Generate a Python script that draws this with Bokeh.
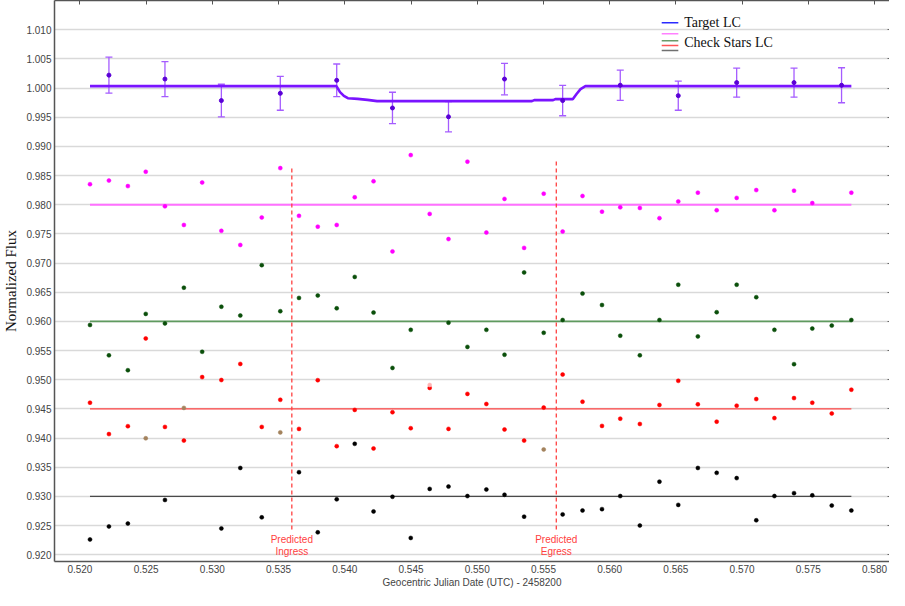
import numpy as np
from bokeh.plotting import figure
from bokeh.models import (ColumnDataSource, Range1d, LinearAxis, FixedTicker,
                          NumeralTickFormatter, Whisker, TeeHead, CustomLabelingPolicy)
from bokeh.core.properties import value
from bokeh.embed import file_html
from bokeh.resources import INLINE

nan = float("nan")

# ---------------- data ----------------
time = [0.52076, 0.52219, 0.52362, 0.52497, 0.52642, 0.52785, 0.52923, 0.53068,
        0.53211, 0.53373, 0.53513, 0.53654, 0.53796, 0.53939, 0.54075, 0.54217,
        0.54360, 0.54498, 0.54641, 0.54783, 0.54926, 0.55069, 0.55206, 0.55354,
        0.55502, 0.55645, 0.55795, 0.55942, 0.56080, 0.56228, 0.56376, 0.56518,
        0.56666, 0.56808, 0.56959, 0.57107, 0.57244, 0.57392, 0.57530, 0.57677,
        0.57825]

check1_flux = [0.98353, 0.98415, 0.98320, 0.98566, 0.97973, 0.97654, 0.98382, 0.97553,
               0.97311, 0.97782, 0.98629, 0.97810, 0.97625, 0.97654, 0.98129, 0.98403,
               0.97200, 0.98852, 0.97844, 0.97412, 0.98740, 0.97524, 0.98101, 0.97261,
               0.98191, 0.97541, 0.98151, 0.97882, 0.97956, 0.97945, 0.97771, 0.98057,
               0.98208, 0.97906, 0.98118, 0.98252, 0.97906, 0.98242, 0.98029, nan,
               0.98208]
check2_flux = [0.95939, 0.95418, 0.95163, 0.96129, 0.95966, 0.96578, 0.95479, 0.96252,
               0.96101, 0.96965, 0.96175, 0.96403, 0.96444, 0.96225, 0.96763, 0.96151,
               0.95202, 0.95855, nan, 0.95978, 0.95563, 0.95855, 0.95429, 0.96840,
               0.95805, 0.96024, 0.96477, 0.96281, 0.95755, 0.95418, 0.96024, 0.96629,
               0.95743, 0.96158, 0.96629, 0.96415, 0.95855, 0.95267, 0.95877, 0.95928,
               0.96024]
check3_flux = [0.94606, 0.94068, 0.94203, 0.95708, 0.94191, 0.93956, 0.95045, 0.94995,
               0.95271, 0.94191, 0.94656, 0.94157, 0.94992, 0.93861, 0.94483, 0.93821,
               0.94443, 0.94169, 0.94860, 0.94157, 0.94757, 0.94584, 0.94147, 0.93956,
               0.94522, 0.95089, 0.94623, 0.94208, 0.94332, 0.94241, 0.94567, 0.94981,
               0.94578, 0.94281, 0.94555, 0.94668, 0.94342, 0.94685, 0.94606, 0.94421,
               0.94829]
check4_flux = [0.92261, 0.92484, 0.92534, nan, 0.92938, nan, nan, 0.92450,
               0.93487, 0.92640, nan, 0.93414, 0.92383, 0.92949, 0.93901, 0.92741,
               0.92993, 0.92287, 0.93128, 0.93168, 0.93005, 0.93118, 0.93027, 0.92652,
               nan, 0.92691, 0.92758, 0.92781, 0.93005, 0.92500, 0.93252, 0.92854,
               0.93487, 0.93403, 0.93313, 0.92590, 0.93005, 0.93055, 0.93017, 0.92842,
               0.92758]
check_levels = [0.980, 0.960, 0.945, 0.930]

flagged_time = [0.52497, 0.52785, 0.53513, 0.55502]
flagged_flux = [0.93996, 0.94517, 0.94097, 0.93804]
faint_time = [0.54641]
faint_flux = [0.94910]

target_time = [0.52219, 0.52642, 0.53068, 0.53513, 0.53939, 0.54360, 0.54783,
               0.55206, 0.55645, 0.56080, 0.56518, 0.56959, 0.57392, 0.57751]
target_flux = [1.00223, 1.00156, 0.99787, 0.99911, 1.00134, 0.99660, 0.99509,
               1.00156, 0.99787, 1.00050, 0.99871, 1.00095, 1.00095, 1.00050]
target_err = [0.0031, 0.0030, 0.0028, 0.0029, 0.0028, 0.0027, 0.0026,
              0.0027, 0.0026, 0.0026, 0.0025, 0.0025, 0.0025, 0.0030]

model_time = [0.52076, 0.53937, 0.53964, 0.53993, 0.54023, 0.54097, 0.54171, 0.54244,
              0.55413, 0.55430, 0.55573, 0.55590, 0.55721, 0.55750, 0.55780, 0.55817,
              0.57825]
model_flux = [1.00034, 1.00034, 0.99933, 0.99866, 0.99827, 0.99816, 0.99799, 0.99777,
              0.99777, 0.99794, 0.99794, 0.99811, 0.99811, 0.99900, 0.99983, 1.00034,
              1.00034]

pred_time = [0.53600, 0.55597]
pred_top = [0.98640, 0.98760]
pred_bottom = [0.92430, 0.92430]
pred_label1 = ["Predicted", "Predicted"]
pred_label2 = ["Ingress", "Egress"]

x_ticks = [0.520, 0.525, 0.530, 0.535, 0.540, 0.545, 0.550, 0.555, 0.560, 0.565,
           0.570, 0.575, 0.580]
y_ticks = [0.920, 0.925, 0.930, 0.935, 0.940, 0.945, 0.950, 0.955, 0.960, 0.965,
           0.970, 0.975, 0.980, 0.985, 0.990, 0.995, 1.000, 1.005, 1.010]

# ---------------- figure ----------------
X0, X1 = 0.51808, 0.58113
Y0, Y1 = 0.91883, 1.01503

p = figure(width=889, height=590, output_backend="svg", toolbar_location=None,
           x_range=Range1d(X0, X1), y_range=Range1d(Y0, Y1),
           min_border_left=10, min_border_right=0, min_border_top=0,
           min_border_bottom=0, background_fill_color="white")
p.outline_line_color = None
p.xgrid.visible = False
p.ygrid.grid_line_color = "#d9d9d9"
p.ygrid.grid_line_width = 1.6

tick_font = "Liberation Sans"
for ax in (p.xaxis[0], p.yaxis[0]):
    ax.axis_line_color = "#555555"
    ax.axis_line_width = 1.5
    ax.major_tick_in = 0
    ax.major_tick_out = 0
    ax.minor_tick_in = 0
    ax.minor_tick_out = 0
    ax.major_label_text_font = tick_font
    ax.major_label_text_font_size = "10px"
    ax.major_label_text_color = "#444444"
    ax.formatter = NumeralTickFormatter(format="0.000")

p.xaxis.major_label_standoff = 3
p.yaxis.major_label_standoff = 3
p.xaxis.ticker = FixedTicker(ticks=x_ticks)
p.yaxis.ticker = FixedTicker(ticks=y_ticks)

p.xaxis.axis_label = "Geocentric Julian Date (UTC) - 2458200"
p.xaxis.axis_label_text_font = tick_font
p.xaxis.axis_label_text_font_size = "10px"
p.xaxis.axis_label_text_font_style = "normal"
p.xaxis.axis_label_text_color = "#444444"
p.xaxis.axis_label_standoff = 1

p.yaxis.axis_label = "Normalized Flux"
p.yaxis.axis_label_text_font = "Liberation Serif"
p.yaxis.axis_label_text_font_size = "15px"
p.yaxis.axis_label_text_font_style = "normal"
p.yaxis.axis_label_text_color = "#111111"
p.yaxis.axis_label_standoff = 4

no_labels = CustomLabelingPolicy(code="return new Set()")
top_axis = LinearAxis(ticker=FixedTicker(ticks=x_ticks), major_label_text_font_size="0px",
                      major_label_policy=no_labels,
                      major_tick_in=4, major_tick_out=0, minor_tick_in=0, minor_tick_out=0,
                      axis_line_color="#555555", axis_line_width=1.5,
                      major_tick_line_color="#555555", major_label_standoff=0)
p.add_layout(top_axis, "above")
right_axis = LinearAxis(ticker=FixedTicker(ticks=y_ticks), major_label_text_font_size="0px",
                        major_label_policy=CustomLabelingPolicy(code="return new Set()"),
                        major_tick_in=2, major_tick_out=0, minor_tick_in=0, minor_tick_out=0,
                        axis_line_color=None, major_tick_line_color="#666666",
                        major_label_standoff=0)
p.add_layout(right_axis, "right")

t = np.array(time)


def series(flux):
    f = np.array(flux, dtype=float)
    m = ~np.isnan(f)
    return ColumnDataSource(dict(x=t[m], y=f[m]))


# check star mean levels
level_colors = ["#ff70ff", "#5f9a5f", "#ff4545", "#4a4a4a"]
level_widths = [2.0, 1.8, 1.4, 1.4]
for lev, c, w in zip(check_levels, level_colors, level_widths):
    p.line(x=[time[0], time[-1]], y=[lev, lev], line_color=c, line_width=w)

# check star points
point_colors = ["#ff00ff", "#0a4f0a", "#ff0000", "#000000"]
for flux, c in zip([check1_flux, check2_flux, check3_flux, check4_flux], point_colors):
    p.scatter("x", "y", source=series(flux), size=4, marker="circle",
              fill_color=c, line_color=c, line_width=0.5)

p.scatter(x=flagged_time, y=flagged_flux, size=4, marker="circle",
          fill_color="#a3825d", line_color="#a3825d", line_width=0.5)
p.scatter(x=faint_time, y=faint_flux, size=4, marker="circle",
          fill_color="#ffb3b3", line_color="#ffb3b3", line_width=0.5)

# predicted ingress / egress
p.segment(x0=pred_time, y0=pred_bottom, x1=pred_time, y1=pred_top,
          line_color="#ff4040", line_width=1.3, line_dash="4 3")
lbl_y1 = [Y0 + 0.0393 * (Y1 - Y0)] * 2
lbl_y2 = [Y0 + 0.0178 * (Y1 - Y0)] * 2
p.text(x=pred_time, y=lbl_y1, text=pred_label1, text_align="center",
       text_baseline="middle", text_font=value("Liberation Sans"),
       text_font_size="10px", text_color="#ff4040")
p.text(x=pred_time, y=lbl_y2, text=pred_label2, text_align="center",
       text_baseline="middle", text_font=value("Liberation Sans"),
       text_font_size="10px", text_color="#ff4040")

# target model + binned points
p.line(x=model_time, y=model_flux, line_color="#7a14ff", line_width=2.6)
tf = np.array(target_flux)
te = np.array(target_err)
tsrc = ColumnDataSource(dict(x=target_time, y=target_flux,
                             upper=tf + te, lower=tf - te))
p.add_layout(Whisker(source=tsrc, base="x", upper="upper", lower="lower",
                     line_color="#a55cff", line_width=1.3,
                     upper_head=TeeHead(size=7, line_color="#a55cff", line_width=1.3),
                     lower_head=TeeHead(size=7, line_color="#a55cff", line_width=1.3)))
p.scatter("x", "y", source=tsrc, size=4, marker="circle",
          fill_color="#5a00d6", line_color="#5a00d6")

# ---------------- legend (drawn manually) ----------------
def fx(fr):
    return X0 + fr * (X1 - X0)


def fy(fr_from_top):
    return Y1 - fr_from_top * (Y1 - Y0)


p.segment(x0=[fx(0.7272)], y0=[fy(0.0396)], x1=[fx(0.7471)], y1=[fy(0.0396)],
          line_color="#2a2aff", line_width=1.6)
leg_fr = [0.0593, 0.0716, 0.0803, 0.0890]
leg_cols = ["#ff80ff", "#6a9a6a", "#ff5555", "#707070"]
p.segment(x0=[fx(0.7272)] * 4, y0=[fy(f) for f in leg_fr],
          x1=[fx(0.7471)] * 4, y1=[fy(f) for f in leg_fr],
          line_color=leg_cols, line_width=1.5)
p.text(x=[fx(0.7541), fx(0.7541)], y=[fy(0.0396), fy(0.0745)],
       text=["Target LC", "Check Stars LC"], text_align="left",
       text_baseline="middle", text_font=value("Liberation Serif"),
       text_font_size="14px", text_color="#111111")

open("out.html", "w").write(file_html(p, INLINE))
